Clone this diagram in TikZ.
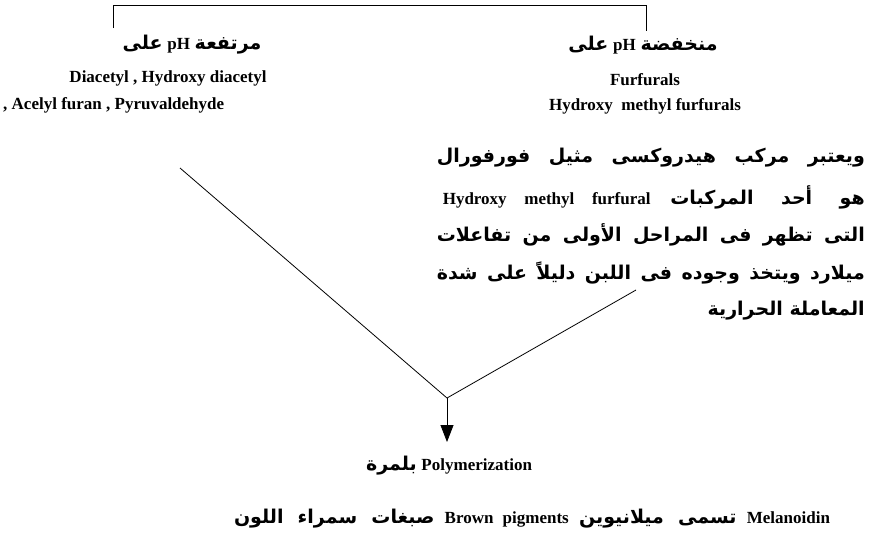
\documentclass[tikz,border=0pt]{standalone}
\usepackage{fontspec}
\setmainfont{Liberation Serif}
\newfontfamily\arabicfont[Script=Arabic]{DejaVu Sans}
\TeXXeTstate=1
\usetikzlibrary{arrows.meta}
\newcommand{\ar}[1]{{\arabicfont\bfseries\fontsize{19}{22}\selectfont\beginR #1\endR}}
\newcommand{\lt}[1]{{\rmfamily\bfseries\fontsize{17}{20}\selectfont #1}}
\begin{document}
\begin{tikzpicture}[x=1pt,y=-1pt,
  txt/.style={inner sep=0pt,font=\fontsize{17}{20}\selectfont\bfseries},
  atxt/.style={inner sep=0pt,font=\fontsize{19}{22}\selectfont},
  ln/.style={line width=0.8pt},
  arr/.style={line width=0.8pt,-{Triangle[width=13pt,length=17pt]}}]
\useasboundingbox (0,0) rectangle (875,549);
% headers
\node[atxt] (lhead) at (192,45) {\ar{على} \lt{pH} \ar{مرتفعة}};
\node[atxt] (rhead) at (643,45) {\ar{على} \lt{pH} \ar{منخفضة}};
\node[txt] (l1) at (168,78) {Diacetyl , Hydroxy diacetyl};
\node[txt,anchor=west] (l2) at (3,105) {, Acelyl furan , Pyruvaldehyde};
\node[txt] (r1) at (645,80) {Furfurals};
\node[txt] (r2) at (645,106) {Hydroxy\ \ methyl furfurals};
% bracket
\coordinate (bl) at (113,28);
\coordinate (br) at (646,31);
\draw[ln] (bl) -- (bl |- 0,5) -- (br |- 0,5) -- (br);
% paragraph
\node[atxt,anchor=east] (p1) at (865,158) {\makebox[428pt][s]{\ar{ويعتبر مركب هيدروكسى مثيل فورفورال}}};
\node[atxt,anchor=east] (p2) at (865,197) {\makebox[422pt][s]{\lt{Hydroxy methyl furfural} \ar{هو أحد المركبات}}};
\node[atxt,anchor=east] (p3) at (865,235) {\makebox[428pt][s]{\ar{التى تظهر فى المراحل الأولى من تفاعلات}}};
\node[atxt,anchor=east] (p4) at (865,273) {\makebox[428pt][s]{\ar{ميلارد ويتخذ وجوده فى اللبن دليلاً على شدة}}};
\node[atxt,anchor=east] (p5) at (865,311) {\ar{المعاملة الحرارية}};
% diagonals
\coordinate (d1) at (180,168);
\coordinate (d2) at (636,290);
\coordinate (v) at (447,398);
\coordinate (tip) at (447,442);
\draw[ln] (d1) -- (v) -- (d2);
\draw[arr] (v) -- (tip);
% bottom
\node[atxt] (poly) at (449,466) {\ar{بلمرة} \lt{Polymerization}};
\node[atxt] (brown) at (532,519) {\makebox[596pt][s]{\ar{صبغات سمراء اللون} \lt{Brown pigments} \ar{تسمى ميلانيوين} \lt{Melanoidin}}};
\end{tikzpicture}
\end{document}
